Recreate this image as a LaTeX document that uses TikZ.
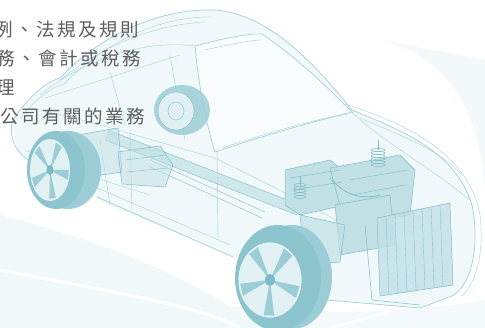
\documentclass[tikz,border=0pt]{standalone}
\usepackage{fontspec}
\newfontfamily\cjk[LetterSpace=14]{Noto Sans CJK TC}
\definecolor{carline}{HTML}{A3D1D9}
\definecolor{cardark}{HTML}{7DBAC6}
\definecolor{carfill}{HTML}{F0F8FA}
\definecolor{partfill}{HTML}{C0E0E6}
\definecolor{tyre}{HTML}{9CCDD6}
\definecolor{tyredark}{HTML}{8CC4CE}
\definecolor{rim}{HTML}{E0F0F3}
\definecolor{txt}{HTML}{5E5E5E}
\begin{document}
\begin{tikzpicture}[x=1pt,y=-1pt,
  body/.style={draw=carline,line width=0.7pt},
  thin/.style={draw=carline,line width=0.4pt},
  part/.style={draw=cardark,line width=0.5pt,fill=partfill},
  label/.style={anchor=base west,text=txt,inner sep=0pt,font=\cjk\fontsize{18.5}{18.5}\selectfont}]
\useasboundingbox (0,0) rectangle (485,328);
\clip (0,0) rectangle (485,328);
\fill[white] (0,0) rectangle (485,328);
% background haze and swooshes
\fill[carfill,opacity=0.8] (380,40) .. controls (470,60) and (490,150) .. (485,240) -- (485,60) -- cycle;
\fill[carfill,opacity=0.7] (0,250) .. controls (120,300) and (300,330) .. (485,300) -- (485,328) -- (0,328) -- cycle;
\fill[carfill,opacity=0.9] (0,215) .. controls (100,240) and (200,280) .. (260,328) -- (0,328) -- cycle;
\draw[white,line width=3pt] (0,270) .. controls (100,290) and (200,305) .. (240,328);
\draw[white,line width=2pt] (330,328) .. controls (400,310) and (460,290) .. (485,260);
% car body fill
\fill[carfill] (12,122) .. controls (25,100) and (45,82) .. (60,78)
  .. controls (100,35) and (160,8) .. (215,10) .. controls (260,14) and (300,45) .. (352,110)
  .. controls (400,130) and (455,150) .. (472,205) .. controls (480,245) and (472,285) .. (452,296)
  -- (420,308) -- (327,300) .. controls (320,250) and (270,230) .. (235,258)
  -- (97,200) .. controls (92,160) and (60,140) .. (30,160) -- (18,152) -- cycle;
% body outline
\draw[body] (12,122) .. controls (25,100) and (45,82) .. (60,78)
  .. controls (100,35) and (160,8) .. (215,10) .. controls (260,14) and (300,45) .. (352,110);
\draw[thin] (20,118) .. controls (35,100) and (50,88) .. (64,84)
  .. controls (105,42) and (160,16) .. (212,17);
\draw[body] (352,110) .. controls (400,130) and (455,150) .. (472,205) .. controls (480,245) and (472,285) .. (452,296) -- (420,308);
\draw[thin] (345,104) .. controls (420,128) and (470,160) .. (480,215) .. controls (484,250) and (478,280) .. (462,296);
\draw[body] (12,122) .. controls (10,135) and (12,148) .. (28,160);
% roof inner edge and windows
\draw[thin] (40,95) .. controls (90,55) and (150,40) .. (195,46);
\draw[thin] (60,80) .. controls (100,48) and (150,25) .. (205,22);
\draw[body,fill=white,fill opacity=0.6] (195,46) .. controls (225,38) and (250,33) .. (262,34)
  .. controls (300,60) and (330,90) .. (352,112)
  .. controls (300,125) and (250,140) .. (215,152) .. controls (205,120) and (198,80) .. (195,46) -- cycle;
\draw[thin] (205,50) .. controls (240,42) and (255,40) .. (262,40);
\draw[thin] (222,148) .. controls (270,132) and (320,118) .. (348,114);
% side glass and doors
\draw[thin] (45,98) -- (180,55);
\draw[thin] (30,108) .. controls (90,120) and (150,140) .. (215,158);
\draw[thin] (110,72) -- (125,125);
\draw[thin] (170,55) -- (185,140);
\draw[thin] (217,150) -- (218,240);
\draw[thin] (130,130) -- (132,210);
% hood
\draw[thin] (215,158) .. controls (280,190) and (330,215) .. (370,240);
\draw[thin] (352,112) .. controls (380,140) and (420,160) .. (470,200);
\draw[thin] (360,118) .. controls (400,135) and (440,150) .. (462,175);
% lower body
\draw[body] (97,197) -- (233,257);
\draw[thin] (95,187) -- (230,245);
\draw[thin] (25,150) .. controls (60,165) and (100,180) .. (150,195);
\draw[body] (327,300) -- (420,308);
\draw[thin] (100,140) -- (110,205);
% drivetrain
\fill[partfill,opacity=0.7] (108,130) -- (300,205) -- (297,215) -- (105,140) -- cycle;
\draw[cardark,line width=0.4pt] (108,130) -- (300,205) (105,140) -- (297,215);
\draw[cardark,line width=0.4pt] (150,160) -- (265,212) (148,166) -- (262,218);
% rear axle and tank
\draw[part,fill opacity=0.5] (78,135) -- (118,128) -- (122,172) -- (82,178) -- cycle;
\draw[part,fill opacity=0.5] (118,152) -- (160,146) -- (173,165) -- (165,187) -- (122,184) -- cycle;
\draw[cardark,line width=0.4pt] (125,160) -- (165,155) (126,172) -- (168,168);
% far rear wheel
\fill[tyre,opacity=0.85] (182,110) ellipse [x radius=28,y radius=25];
\fill[rim] (176,111) ellipse [x radius=18,y radius=19];
\draw[cardark,line width=0.4pt] (176,111) ellipse [x radius=18,y radius=19];
\draw[cardark,line width=0.4pt] (176,111) ellipse [x radius=8,y radius=9];
% engine block
\draw[part] (285,170) -- (330,160) -- (345,172) -- (345,205) -- (300,215) -- (285,205) -- cycle;
\draw[part] (330,168) -- (400,155) -- (415,170) -- (410,215) -- (345,225) -- cycle;
\draw[cardark,line width=0.4pt] (290,178) -- (340,170) (292,190) -- (342,182) (350,180) -- (408,170) (352,195) -- (405,185);
\draw[cardark,line width=0.8pt] (330,178) .. controls (345,195) and (360,200) .. (380,195);
\draw[part] (335,205) -- (390,195) -- (395,245) -- (340,255) -- cycle;
\draw[part,fill opacity=0.7] (300,215) -- (345,225) -- (340,262) -- (305,265) -- cycle;
\foreach \i in {0,...,5} \draw[cardark,line width=0.5pt] (378,150+\i*3) ellipse [x radius=7,y radius=1.5];
\foreach \i in {0,...,4} \draw[cardark,line width=0.5pt] (300,185+\i*3) ellipse [x radius=6,y radius=1.5];
\draw[cardark,line width=0.5pt] (378,150) -- (378,140) (300,185) -- (300,176);
% radiator
\draw[part,fill opacity=0.8] (377,218) -- (450,203) -- (453,285) -- (380,296) -- cycle;
\foreach \i in {1,...,7} \draw[cardark,line width=0.3pt] (377+\i*9,218-\i*1.9) -- (380+\i*9,296-\i*1.4);
\draw[cardark,line width=0.5pt] (365,225) -- (372,300) -- (420,305);
% rear near wheel
\fill[tyre] (68,170) ellipse [x radius=33,y radius=39];
\fill[tyredark] (56,170) ellipse [x radius=29,y radius=39];
\fill[rim] (50,170) ellipse [x radius=20,y radius=31];
\begin{scope}[shift={(50,170)}]
\foreach \a in {0,72,...,288} \fill[tyre] (0,0) -- (\a:19 and 29) -- (\a+20:19 and 29) -- cycle;
\fill[cardark] (0,0) ellipse [x radius=3.5,y radius=5];
\end{scope}
% front near wheel
\fill[tyre] (292,277) ellipse [x radius=40,y radius=52];
\fill[tyredark] (278,278) ellipse [x radius=43,y radius=53];
\fill[rim] (270,280) ellipse [x radius=32,y radius=38];
\begin{scope}[shift={(270,280)}]
\foreach \a in {10,82,...,298} \fill[tyre] (0,0) -- (\a:30 and 36) -- (\a+20:30 and 36) -- cycle;
\fill[cardark] (0,0) ellipse [x radius=5,y radius=6];
\draw[cardark,line width=0.5pt] (0,0) ellipse [x radius=32,y radius=38];
\end{scope}
% labels
\node[label] (l1) at (-6,36.5) {例、法規及規則};
\node[label] (l2) at (-4,65.5) {務、會計或稅務};
\node[label] (l3) at (-4,95) {理};
\node[label] (l4) at (0,124) {公司有關的業務};
\end{tikzpicture}
\end{document}
